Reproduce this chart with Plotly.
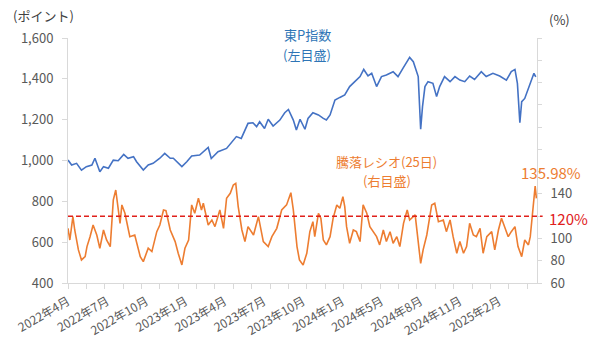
import plotly.graph_objects as go

# ---- data (x = trading-day index from 2022-04-01) ----
topix_day = [0, 6, 14, 22, 30, 39, 44, 52, 58, 66, 74, 82, 91, 98, 107, 112, 123, 131, 139, 150,
             158, 167, 172, 180, 186, 194, 202, 215, 229, 234, 245, 259, 275, 283, 294, 302, 308,
             313, 321, 327, 335, 346, 354, 360, 368, 373, 379, 387, 392, 400, 409, 417, 422, 428,
             436, 444, 452, 460, 468, 477, 483, 490, 496, 504, 512, 520, 531, 539, 547, 553, 558,
             564, 569, 572, 576, 579, 583, 588, 596, 602, 607, 615, 624, 632, 640, 648, 656, 664,
             675, 683, 694, 705, 716, 724, 730, 734, 738, 741, 746, 751, 757, 761, 764]
topix_val = [1002, 978, 986, 953, 970, 978, 1011, 945, 970, 962, 1002, 999, 1030, 1011, 1019, 994,
             953, 978, 986, 1011, 1035, 1011, 1011, 986, 970, 994, 1022, 1027, 1064, 1010, 1043,
             1059, 1117, 1108, 1182, 1185, 1166, 1190, 1157, 1202, 1169, 1198, 1234, 1250, 1198,
             1149, 1202, 1153, 1206, 1234, 1223, 1206, 1198, 1223, 1296, 1309, 1321, 1362, 1386,
             1411, 1446, 1414, 1427, 1362, 1411, 1419, 1435, 1411, 1451, 1484, 1505, 1484, 1435,
             1411, 1153, 1264, 1362, 1386, 1378, 1313, 1362, 1411, 1386, 1411, 1394, 1386, 1414,
             1397, 1435, 1411, 1427, 1414, 1394, 1435, 1446, 1378, 1185, 1288, 1304, 1345, 1394,
             1427, 1410]

ratio_day = [0, 3, 8, 11, 17, 22, 28, 31, 36, 41, 47, 52, 58, 63, 69, 74, 78, 82, 85, 88, 93, 101,
             109, 118, 123, 131, 137, 145, 150, 156, 160, 167, 175, 180, 186, 191, 197, 202, 207,
             213, 218, 221, 229, 235, 240, 248, 254, 259, 265, 270, 274, 278, 284, 289, 294, 303,
             311, 319, 327, 333, 341, 349, 357, 364, 368, 374, 378, 384, 390, 395, 400, 403, 409,
             413, 417, 422, 428, 433, 439, 444, 449, 452, 455, 460, 466, 471, 477, 482, 488, 493,
             499, 504, 509, 515, 520, 526, 531, 537, 542, 548, 554, 558, 567, 572, 576, 580, 586,
             594, 599, 605, 613, 618, 624, 629, 635, 640, 646, 651, 656, 662, 667, 673, 678, 684,
             692, 697, 703, 708, 714, 719, 724, 730, 735, 741, 746, 752, 755, 759, 763, 765]
ratio_val = [109.1, 98.6, 119.6, 107.6, 89.7, 80.7, 83.7, 92.7, 101.6, 112.1, 103.1, 91.2, 107.6,
             98.6, 92.7, 134.6, 143.5, 125.6, 113.6, 130.1, 122.6, 101.6, 103.1, 83.7, 79.2, 91.2,
             88.2, 106.1, 112.1, 125.6, 125.0, 107.6, 97.2, 86.7, 76.2, 91.2, 98.6, 130.1, 122.6,
             136.1, 125.6, 131.6, 112.1, 116.6, 110.6, 125.6, 109.1, 136.1, 140.5, 148.0, 149.5,
             128.6, 107.6, 97.2, 110.6, 103.1, 119.6, 97.2, 92.7, 101.6, 109.1, 125.6, 130.1,
             141.1, 125.6, 92.7, 80.7, 76.2, 86.7, 106.1, 115.1, 101.6, 122.6, 118.1, 98.6, 94.2,
             101.6, 118.1, 130.1, 127.1, 137.6, 128.6, 110.6, 95.7, 107.6, 106.1, 97.2, 130.1,
             122.6, 110.6, 106.1, 101.6, 94.2, 107.6, 97.2, 106.1, 95.7, 101.6, 92.7, 113.6, 125.6,
             116.6, 121.1, 98.6, 77.7, 89.7, 103.1, 130.1, 131.6, 115.1, 116.6, 106.1, 116.6,
             101.6, 86.7, 97.2, 86.7, 92.7, 113.6, 103.1, 101.6, 109.1, 86.7, 101.6, 106.1, 89.7,
             107.6, 118.2, 109.1, 101.6, 106.1, 110.6, 92.7, 83.7, 98.6, 94.2, 101.6, 122.6, 147.0,
             135.98]

label_days = [0, 64, 128, 192, 256, 320, 384, 448, 512, 576, 640, 704]
tick_labels = ["2022年4月", "2022年7月", "2022年10月", "2023年1月", "2023年4月", "2023年7月",
               "2023年10月", "2024年1月", "2024年5月", "2024年8月", "2024年11月", "2025年2月"]

left_ticks = [400, 600, 800, 1000, 1200, 1400, 1600]
right_ticks = [60, 80, 100, 120, 140, 160, 180, 200, 220, 240, 260, 280]
right_labels = ["60", "80", "100", "", "140", "", "", "", "", "", "", ""]
threshold = 120
last_label = "135.98%"

FONT = "Noto Sans CJK JP"
GRAY = "#595959"
AXIS = "#D9D9D9"
BLUE = "#4472C4"
ORANGE = "#ED7D31"
RED = "#E0201B"

fig = go.Figure()
fig.add_trace(go.Scatter(x=topix_day, y=topix_val, mode="lines",
                         line=dict(color=BLUE, width=1.6), yaxis="y", showlegend=False))
fig.add_trace(go.Scatter(x=ratio_day, y=ratio_val, mode="lines",
                         line=dict(color=ORANGE, width=1.6), yaxis="y2", showlegend=False))

fig.add_shape(type="line", xref="paper", x0=0, x1=1.012, yref="y2", y0=threshold, y1=threshold,
              line=dict(color=RED, width=1.6, dash="5px,3px"))

fig.update_layout(
    width=600, height=354,
    margin=dict(l=68, r=63, t=38, b=71),
    paper_bgcolor="white", plot_bgcolor="white",
    font=dict(family=FONT, color=GRAY, size=12),
    xaxis=dict(range=[0, 766], tickmode="array", tickvals=label_days, ticktext=tick_labels,
               tickangle=-30, ticks="", ticklabelstandoff=6, showgrid=False, zeroline=False,
               showline=True, linecolor=AXIS, linewidth=1,
               tickfont=dict(size=12, color=GRAY),
               minor=dict(tickmode="linear", tick0=0, dtick=30, ticks="outside", ticklen=5,
                          tickcolor=AXIS, showgrid=False)),
    yaxis=dict(range=[400, 1600], tickmode="array", tickvals=left_ticks,
               ticktext=[f"{v:,}" for v in left_ticks], ticks="outside", ticklen=5,
               tickcolor=AXIS, showline=True, linecolor=AXIS, showgrid=False, zeroline=False,
               ticklabelstandoff=6, tickfont=dict(size=13, color=GRAY)),
    yaxis2=dict(range=[60, 280], overlaying="y", side="right", tickmode="array",
                tickvals=right_ticks, ticktext=right_labels, ticks="outside", ticklen=4,
                tickcolor=AXIS, showline=True, linecolor=AXIS, showgrid=False, zeroline=False,
                ticklabelstandoff=6, tickfont=dict(size=13, color=GRAY)),
)

def note(text, x, y, color, size=13, xref="paper", yref="paper", xanchor="center"):
    fig.add_annotation(text=text, x=x, y=y, xref=xref, yref=yref, xanchor=xanchor,
                       yanchor="middle", showarrow=False, borderpad=0,
                       font=dict(size=size, color=color))

note("(ポイント)", -0.12, 1.09, "#404040", xanchor="left")
note("(%)", 1.049, 1.075, "#404040")
note("東P指数", 0.5096, 1.013, "#2E75B6")
note("(左目盛)", 0.5096, 0.931, "#2E75B6")
note("騰落レシオ(25日)", 0.680, 0.494, ORANGE)
note("(右目盛)", 0.680, 0.420, ORANGE)
note(last_label, 1.03, 942, ORANGE, size=15, yref="y")
note(f"{threshold}%", 1.023, 118, RED, size=15, yref="y2", xanchor="left")

fig.write_html("out.html")
